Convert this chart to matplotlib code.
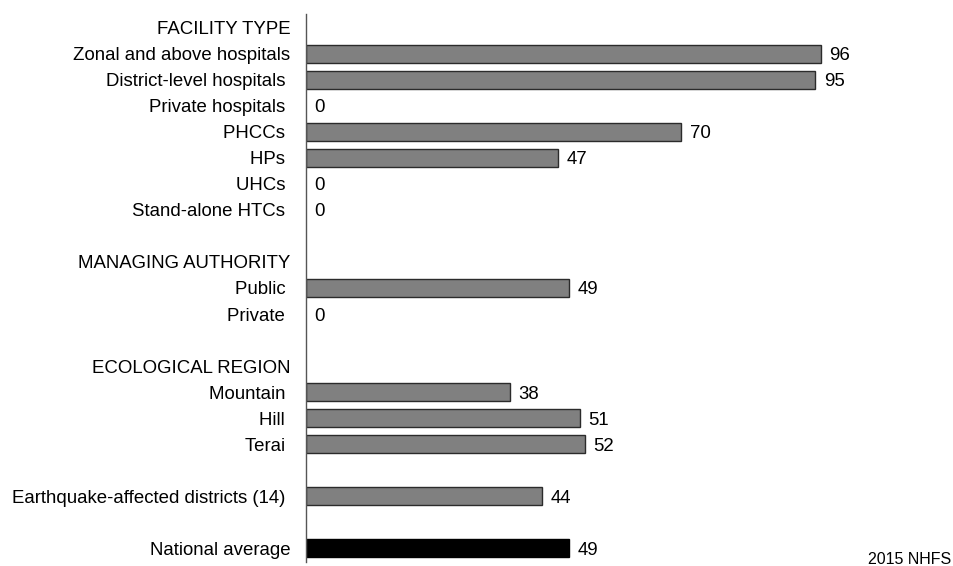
import numpy as np
import matplotlib.pyplot as plt

plt.rcParams['font.family'] = ['Liberation Sans', 'DejaVu Sans']

# Percent values per group, headers carry no value
facility_header = "FACILITY TYPE"
facility_labels = ["Zonal and above hospitals", "District-level hospitals ", "Private hospitals ",
                   "PHCCs ", "HPs ", "UHCs ", "Stand-alone HTCs "]
facility_values = [96, 95, 0, 70, 47, 0, 0]

authority_header = "MANAGING AUTHORITY"
authority_labels = ["Public ", "Private "]
authority_values = [49, 0]

region_header = "ECOLOGICAL REGION"
region_labels = ["Mountain ", "Hill ", "Terai "]
region_values = [38, 51, 52]

quake_labels = ["Earthquake-affected districts (14) "]
quake_values = [44]

national_labels = ["National average"]
national_values = [49]

source_note = "2015 NHFS"

# build rows top to bottom: (label, value, is_national)
rows = []
rows.append((facility_header, None, False))
rows += [(l, v, False) for l, v in zip(facility_labels, facility_values)]
rows.append(("", None, False))
rows.append((authority_header, None, False))
rows += [(l, v, False) for l, v in zip(authority_labels, authority_values)]
rows.append(("", None, False))
rows.append((region_header, None, False))
rows += [(l, v, False) for l, v in zip(region_labels, region_values)]
rows.append(("", None, False))
rows += [(l, v, False) for l, v in zip(quake_labels, quake_values)]
rows.append(("", None, False))
rows += [(l, v, True) for l, v in zip(national_labels, national_values)]

fig = plt.figure(figsize=(9.54, 5.66), dpi=100)
ax = fig.add_axes([0.321, 0.00795, 0.5617, 0.9665])

ypos = np.arange(len(rows))
for y, (lab, val, nat) in zip(ypos, rows):
    if val is None:
        continue
    if val > 0:
        ax.barh(y, val, height=0.69, left=0,
                color='black' if nat else '#808080',
                edgecolor='black' if nat else '#2b2b2b', linewidth=1.0)
    # value label, ~8px right of the bar end
    ax.annotate("{}".format(val), (val, y), xytext=(6, 0), textcoords='offset points',
                ha='left', va='center_baseline', fontsize=13.4)

ax.set_yticks(ypos)
ax.set_yticklabels([r[0] for r in rows], fontsize=13.4)
ax.tick_params(axis='y', length=0, pad=11.5)
ax.set_xticks([])
ax.set_xlim(0, 100)
ax.set_ylim(len(rows) - 0.5, -0.5)

for s in ['top', 'right', 'bottom']:
    ax.spines[s].set_visible(False)
ax.spines['left'].set_color('#555555')
ax.spines['left'].set_linewidth(1.0)

fig.text(0.9975, 0.004, source_note, ha='right', va='baseline', fontsize=11.5)

fig.savefig("out.png", dpi=100)
